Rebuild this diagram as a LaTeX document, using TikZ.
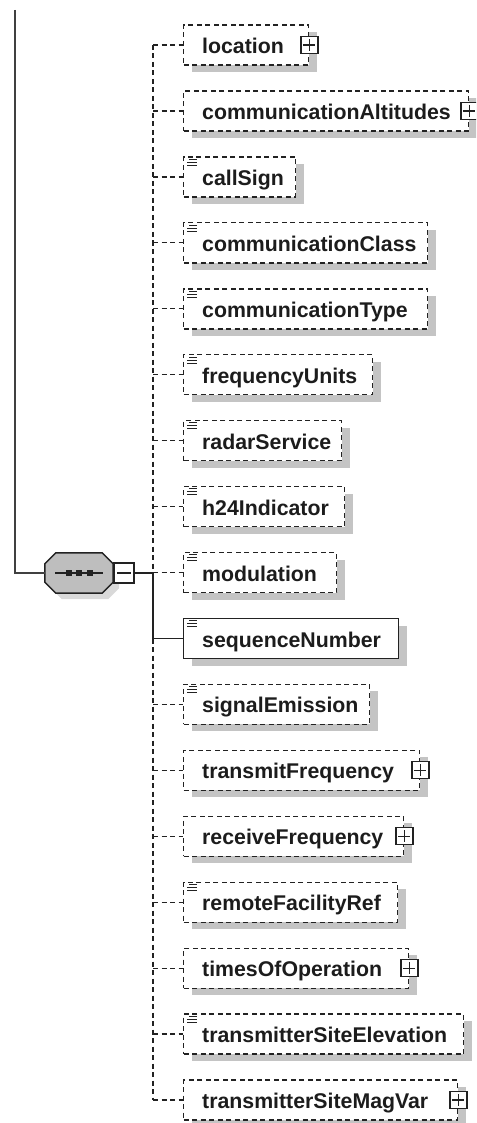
\documentclass[tikz,border=0pt]{standalone}
\usepackage{fontspec}
\setmainfont{Liberation Sans}
\usetikzlibrary{shadows,calc}

\definecolor{lineC}{HTML}{222222}
\definecolor{shadowC}{HTML}{C4C4C4}
\definecolor{seqfill}{HTML}{BEBEBE}
\definecolor{textC}{HTML}{1C1C1C}

\tikzset{
  boxbase/.style={draw=lineC, fill=white, line width=1.4pt, minimum height=40pt,
    inner sep=0pt, anchor=west,
    drop shadow={shadow xshift=8pt, shadow yshift=-7pt, fill=shadowC, opacity=1}},
  optbox/.style={boxbase, dash pattern=on 5pt off 3.5pt},
  reqbox/.style={boxbase, solid},
  lbl/.style={font=\bfseries\fontsize{21.3}{24}\selectfont, text=textC,
    anchor=base west, inner sep=0pt},
  conn/.style={draw=lineC, line width=1.3pt, dash pattern=on 5pt off 3.5pt},
  solidconn/.style={draw=lineC, line width=1.5pt},
  mainline/.style={draw=black!75, line width=1.7pt},
  iconbox/.style={draw=lineC, fill=white, line width=1.3pt, minimum size=17pt,
    inner sep=0pt, solid},
  iconline/.style={draw=lineC, line width=1.3pt, solid},
  elline/.style={draw=lineC, line width=1pt, solid},
  seqframe/.style={minimum width=68pt, minimum height=40pt, inner sep=0pt},
  octo/.style={draw=lineC, fill=seqfill, line width=1.5pt, line join=miter},
  octoshadow/.style={fill=black!15}
}

\newcommand\myrow[5]{%
  \node[#4, minimum width={#3-183}] (b#1) at (183,#5) {};
  \node[lbl] (t#1) at ($(b#1.west)+(19,8.5)$) {#2};
}
\newcommand\myplus[1]{%
  \node[iconbox] (p#1) at (b#1.east) {};
  \draw[iconline] ($(p#1.center)+(-6,0)$) -- ($(p#1.center)+(6,0)$)
                  ($(p#1.center)+(0,-6)$) -- ($(p#1.center)+(0,6)$);
}
\newcommand\myel[1]{%
  \draw[elline] ($(b#1.north west)+(6,3)$) -- ++(8,0)
                ($(b#1.north west)+(4,6)$) -- ++(10,0)
                ($(b#1.north west)+(4,9)$) -- ++(10,0);
}
\newcommand\octopath[2]{% shift x, shift y
  ($(seq.north west)+(11+#1,#2)$) -- ($(seq.north east)+(-11+#1,#2)$)
  -- ($(seq.north east)+(#1,11+#2)$) -- ($(seq.south east)+(#1,-11+#2)$)
  -- ($(seq.south east)+(-11+#1,#2)$) -- ($(seq.south west)+(11+#1,#2)$)
  -- ($(seq.south west)+(#1,-11+#2)$) -- ($(seq.north west)+(#1,11+#2)$) -- cycle
}

\begin{document}
\begin{tikzpicture}[x=1pt,y=-1pt]
\path[use as bounding box, clip] (0,0) rectangle (476,1123);

% compositor
\node[seqframe] (seq) at (79,573) {};
\fill[octoshadow] \octopath{6}{6};
\draw[octo] \octopath{0}{0};
\draw[line width=1.4pt, draw=lineC] ($(seq.center)+(-24,0)$) -- ($(seq.center)+(24,0)$);
\foreach \dx in {-10.5,0,10.5}
  \fill[lineC] ($(seq.center)+(\dx-3,-3)$) rectangle ++(6,6);
\node[iconbox, minimum size=20pt] (mn) at (124,573) {};
\draw[iconline] ($(mn.center)+(-7,0)$) -- ($(mn.center)+(7,0)$);

% elements
\myrow{0}{location}{308}{optbox}{45}
\myrow{1}{communicationAltitudes}{468}{optbox}{110.9}
\myrow{2}{callSign}{295}{optbox}{176.9}
\myrow{3}{communicationClass}{427}{optbox}{242.8}
\myrow{4}{communicationType}{427}{optbox}{308.8}
\myrow{5}{frequencyUnits}{372}{optbox}{374.7}
\myrow{6}{radarService}{341}{optbox}{440.6}
\myrow{7}{h24Indicator}{344}{optbox}{506.6}
\myrow{8}{modulation}{336}{optbox}{572.5}
\myrow{9}{sequenceNumber}{398}{reqbox}{638.5}
\myrow{10}{signalEmission}{369}{optbox}{704.4}
\myrow{11}{transmitFrequency}{419}{optbox}{770.3}
\myrow{12}{receiveFrequency}{403}{optbox}{836.3}
\myrow{13}{remoteFacilityRef}{397}{optbox}{902.2}
\myrow{14}{timesOfOperation}{408}{optbox}{968.2}
\myrow{15}{transmitterSiteElevation}{463}{optbox}{1034.1}
\myrow{16}{transmitterSiteMagVar}{457}{optbox}{1100}

\myplus{0}\myplus{1}\myplus{11}\myplus{12}\myplus{14}\myplus{16}
\myel{2}\myel{3}\myel{4}\myel{5}\myel{6}\myel{7}\myel{8}\myel{9}
\myel{10}\myel{13}\myel{15}

% connectors
\coordinate (top) at (15,10);
\coordinate (jn) at (153,573);
\draw[mainline] (top) |- (seq.west);
\draw[solidconn] (mn.east) -- (jn);
\draw[solidconn] (jn) |- (b9.west);
\draw[conn] (b0.west -| jn) -- (jn);
\draw[conn] (b9.west -| jn) -- (b16.west -| jn);
\foreach \i in {0,1,2,3,4,5,6,7,8,10,11,12,13,14,15,16}
  \draw[conn] (b\i.west -| jn) -- (b\i.west);
\end{tikzpicture}
\end{document}
